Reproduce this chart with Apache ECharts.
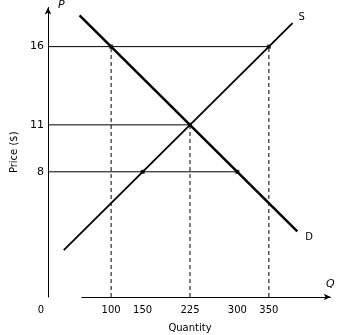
<!DOCTYPE html>
<html><head><meta charset="utf-8">
<script src="https://cdn.jsdelivr.net/npm/echarts@6/dist/echarts.min.js"></script>
<style>html,body{margin:0;padding:0;background:#fff}#c{width:337px;height:335px}</style>
</head><body><div id="c"></div>
<script>
const qTicks = [0, 100, 150, 225, 300, 350];
const pTicks = [8, 11, 16];
const demand = [[50, 18], [395, 4.2]];
const supply = [[25, 3], [387.5, 17.5]];
const points = [[100, 16], [350, 16], [225, 11], [150, 8], [300, 8]];
const hGuides = [[16, 350], [11, 225], [8, 300]];   // [price, quantity end]
const vGuides = [[100, 16], [225, 11], [350, 16]];  // [quantity, price top]
const xAxisSpan = [53, 448];

const font = 'DejaVu Sans';
const series = [];
hGuides.forEach(([p, q]) => series.push({type:'line', data:[[0,p],[q,p]], symbol:'none', silent:true,
  lineStyle:{color:'#000', width:1}, z:2}));
vGuides.forEach(([q, p]) => series.push({type:'line', data:[[q,0],[q,p]], symbol:'none', silent:true,
  lineStyle:{color:'#000', width:1, type:[4,3]}, z:2}));
series.push({type:'line', data:demand, symbol:'none', lineStyle:{color:'#000', width:2.5}, z:3,
  endLabel:{show:true, formatter:'D', color:'#000', fontFamily:font, fontSize:10, offset:[0,6]}});
series.push({type:'line', data:supply, symbol:'none', lineStyle:{color:'#000', width:1.8}, z:3,
  endLabel:{show:true, formatter:'S', color:'#000', fontFamily:font, fontSize:10, offset:[-2,-6]}});
series.push({type:'scatter', data:points, symbol:'rect', symbolSize:4, itemStyle:{color:'#000'}, z:4});
series.push({type:'line', data:[], markLine:{silent:true, symbol:['none','arrow'], symbolSize:[5,7],
  label:{show:false}, lineStyle:{color:'#000', width:1, type:'solid'},
  data:[[{coord:[xAxisSpan[0],0]},{coord:[xAxisSpan[1],0]}]]}});

const chart = echarts.init(document.getElementById('c'));
chart.setOption({
  animation:false,
  grid:{left:48, right:5, top:7.5, bottom:38, containLabel:false, outerBoundsMode:'none'},
  xAxis:{type:'value', min:0, max:450, interval:25,
    name:'Quantity', nameLocation:'middle', nameGap:26,
    nameTextStyle:{color:'#000', fontFamily:font, fontSize:10},
    axisLine:{show:false}, axisTick:{show:false}, splitLine:{show:false},
    axisLabel:{color:'#000', fontFamily:font, fontSize:10, margin:8,
      formatter:v => qTicks.includes(v) ? (v===0 ? '{z|0}' : String(v)) : '',
      rich:{z:{padding:[0,14,0,0], color:'#000', fontFamily:font, fontSize:10}}}},
  yAxis:{type:'value', min:0, max:18.5, interval:0.5,
    name:'Price ($)', nameLocation:'middle', nameGap:23, nameRotate:90,
    nameTextStyle:{color:'#000', fontFamily:font, fontSize:10},
    axisLine:{show:true, lineStyle:{color:'#000', width:1}, symbol:['none','arrow'], symbolSize:[5,7]},
    axisTick:{show:false}, splitLine:{show:false},
    axisLabel:{color:'#000', fontFamily:font, fontSize:11, margin:4,
      formatter:v => pTicks.includes(v) ? String(v) : ''}},
  graphic:[
    {type:'text', left:58, top:0, style:{text:'P', font:'italic 11px "DejaVu Sans"', fill:'#000'}},
    {type:'text', left:326, top:279, style:{text:'Q', font:'italic 11px "DejaVu Sans"', fill:'#000'}}
  ],
  series
});
</script></body></html>
